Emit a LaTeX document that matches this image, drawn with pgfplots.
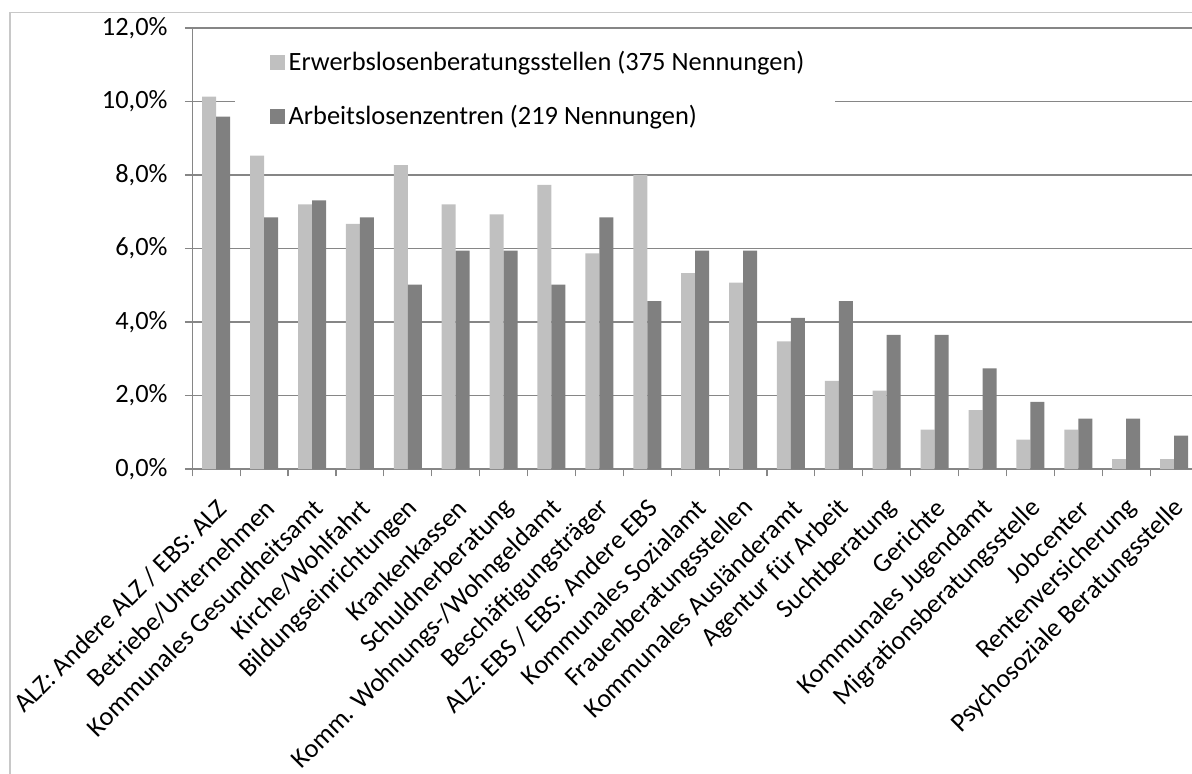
\documentclass[border=0pt]{standalone}
\usepackage{pgfplots}
\pgfplotsset{compat=1.18}
\usepackage{fontspec}
\setmainfont{Carlito}
\definecolor{lightbar}{RGB}{192,192,192}
\definecolor{darkbar}{RGB}{128,128,128}
\definecolor{gridc}{RGB}{134,134,134}
\definecolor{framec}{RGB}{200,200,200}
\begin{document}
\begin{tikzpicture}[x=1pt,y=1pt]
\useasboundingbox (0,0) rectangle (596,386.5);
\begin{scope}
\clip (0,0) rectangle (596,386.5);
\draw[framec, line width=0.75pt] (5,-20) rectangle (620,380.35);
\begin{axis}[
  at={(96.15pt,152pt)}, anchor=south west,
  scale only axis, width=502.85pt, height=220.5pt,
  ybar=0pt, bar width=7pt,
  ymin=0, ymax=12, xmin=-0.5, xmax=20.5,
  axis x line*=bottom, axis y line*=left,
  axis line style={gridc, line width=0.6pt, -},
  ymajorgrids, grid style={gridc, line width=0.6pt},
  tick align=outside,
  major tick length=3.7pt, minor tick length=3.7pt,
  ytick={0,2,4,6,8,10,12},
  yticklabels={{0,0\%},{2,0\%},{4,0\%},{6,0\%},{8,0\%},{10,0\%},{12,0\%}},
  y tick style={gridc, line width=0.6pt},
  xtick={0,...,20},
  minor xtick={-0.5,0.5,...,20.5},
  major x tick style={draw=none},
  minor x tick style={draw=gridc, line width=0.6pt},
  /pgf/number format/assume math mode=true,
  yticklabel style={font=\fontsize{13.2}{15}\selectfont, inner sep=0pt, xshift=-8.5pt},
  xticklabel style={font=\fontsize{13.2}{15}\selectfont, rotate=45, anchor=east, inner sep=1pt, xshift=-6.5pt, yshift=-12pt},
  xticklabels={{ALZ: Andere ALZ / EBS: ALZ},{Betriebe/Unternehmen},{Kommunales Gesundheitsamt},{Kirche/Wohlfahrt},{Bildungseinrichtungen},{Krankenkassen},{Schuldnerberatung},{Komm. Wohnungs-/Wohngeldamt},{Beschäftigungsträger},{ALZ: EBS / EBS: Andere EBS},{Kommunales Sozialamt},{Frauenberatungsstellen},{Kommunales Ausländeramt},{Agentur für Arbeit},{Suchtberatung},{Gerichte},{Kommunales Jugendamt},{Migrationsberatungsstelle},{Jobcenter},{Rentenversicherung},{Psychosoziale Beratungsstelle}},
  legend image code/.code={\fill[#1] (0pt,-3.75pt) rectangle (7.5pt,3.75pt);},
  legend style={draw=none, fill=none, at={(axis description cs:0.0765,0.957)}, anchor=north west,
    font=\fontsize{13.2}{15}\selectfont, inner sep=0pt, row sep=12pt,
    /tikz/every even column/.style={column sep=3.8pt}},
  legend cell align=left,
]
\addplot[fill=lightbar, draw=none] coordinates {
(0,10.13) (1,8.53) (2,7.20) (3,6.67) (4,8.27) (5,7.20) (6,6.93) (7,7.73) (8,5.87) (9,8.00)
(10,5.33) (11,5.07) (12,3.47) (13,2.40) (14,2.13) (15,1.07) (16,1.60) (17,0.80) (18,1.07) (19,0.27) (20,0.27)};
\addplot[fill=darkbar, draw=none] coordinates {
(0,9.59) (1,6.85) (2,7.31) (3,6.85) (4,5.02) (5,5.94) (6,5.94) (7,5.02) (8,6.85) (9,4.57)
(10,5.94) (11,5.94) (12,4.11) (13,4.57) (14,3.65) (15,3.65) (16,2.74) (17,1.83) (18,1.37) (19,1.37) (20,0.91)};
\fill[white] (axis cs:0.39,8.95) rectangle (axis cs:12.92,11.81);
\legend{Erwerbslosenberatungsstellen (375 Nennungen),Arbeitslosenzentren (219 Nennungen)}
\end{axis}
\end{scope}
\end{tikzpicture}
\end{document}
